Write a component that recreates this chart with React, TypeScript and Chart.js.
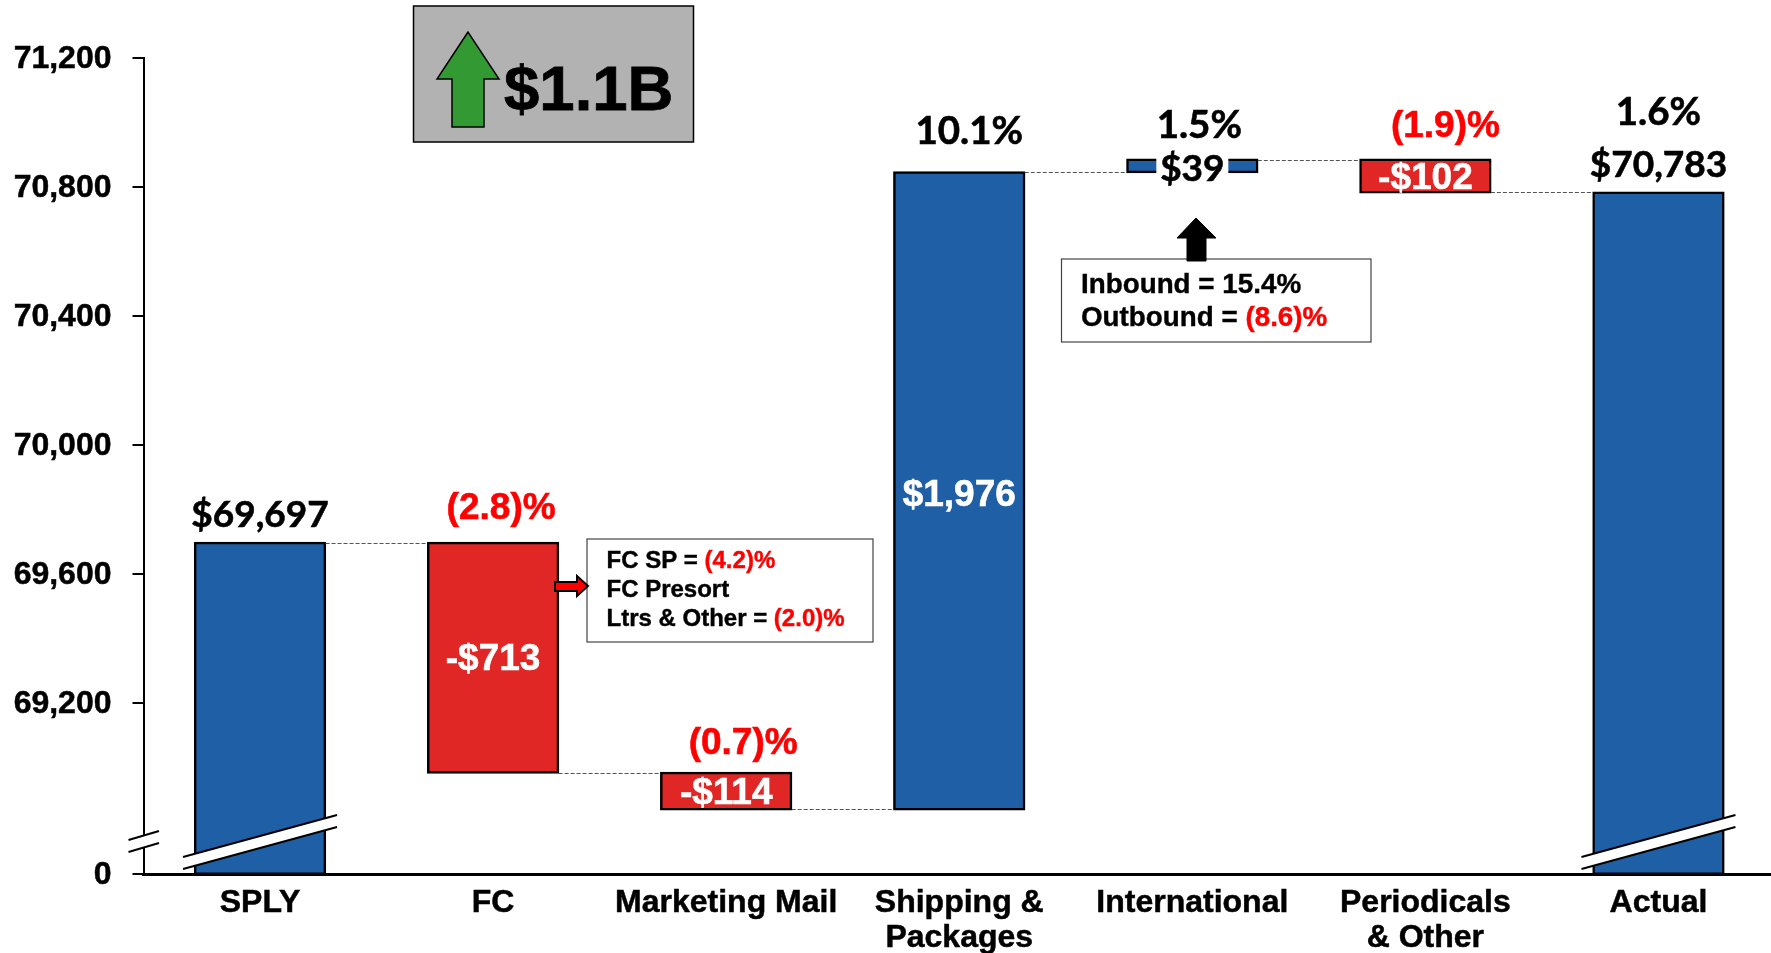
import React, { useEffect, useRef } from "react";
import { Chart, registerables } from "chart.js";

Chart.register(...registerables);

const categories: (string | string[])[] = ["SPLY", "FC", "Marketing Mail", ["Shipping &", "Packages"], "International", ["Periodicals", "& Other"], "Actual"];
const axisFloor = 68670;
const axisTop = 71200;
const yTickValues = [68670, 69200, 69600, 70000, 70400, 70800, 71200];
const yTickLabels = ["0", "69,200", "69,600", "70,000", "70,400", "70,800", "71,200"];
const barLow = [68670, 68984, 68870, 68870, 70846, 70783, 68670];
const barHigh = [69697, 69697, 68984, 70846, 70885, 70885, 70783];
const barIsDown = [false, true, true, false, false, true, false];
const amountLabels = ["", "-$713", "-$114", "$1,976", "$39", "-$102", ""];
const percentLabels = ["", "(2.8)%", "(0.7)%", "10.1%", "1.5%", "(1.9)%", "1.6%"];
const totalLabels = ["$69,697", "", "", "", "", "", "$70,783"];
const connectorLevels = [69697, 68984, 68870, 70846, 70885, 70783];
const badgeText = "$1.1B";
const fcNotes = [
  ["FC SP = ", "(4.2)%"],
  ["FC Presort", ""],
  ["Ltrs & Other = ", "(2.0)%"],
];
const intlNotes = [
  ["Inbound = 15.4%", ""],
  ["Outbound = ", "(8.6)%"],
];

const BLUE = "#1F5FA6";
const RED = "#E02726";
const PCT_RED = "#FF0000";
const FAMILY = '"Liberation Sans", Arial, sans-serif';
const HEAD_FAMILY = 'Lato, "Liberation Sans", sans-serif';

// layout offsets from each bar's centre / top edge
const percentOffset = [[0, 0], [8, -33.5], [17, -28.5], [10, -41], [7, -34.5], [20, -32.5], [0, -80]];
const totalOffset = [[0, -27.5], [0, 0], [0, 0], [0, 0], [0, 0], [0, 0], [0, -27.5]];
const amountOffset = [0, 2.5, 2.5, 4.5, 3.5, 2.5, 0];

const arrow = (c: CanvasRenderingContext2D, pts: number[][], fill: string, lw: number) => {
  c.beginPath();
  pts.forEach((p, i) => (i ? c.lineTo(p[0], p[1]) : c.moveTo(p[0], p[1])));
  c.closePath();
  c.fillStyle = fill;
  c.fill();
  c.lineWidth = lw;
  c.strokeStyle = "#000";
  c.stroke();
};

const heavyText = (c: CanvasRenderingContext2D, t: string, x: number, y: number, color: string, w = 0.6) => {
  c.fillStyle = color;
  c.fillText(t, x, y);
  c.strokeStyle = color;
  c.lineWidth = w;
  c.strokeText(t, x, y);
};

const breakBand = (c: CanvasRenderingContext2D, x0: number, x1: number, y0Top: number, y1Top: number, gap: number, lw: number) => {
  c.beginPath();
  c.moveTo(x0, y0Top);
  c.lineTo(x1, y1Top);
  c.lineTo(x1, y1Top + gap);
  c.lineTo(x0, y0Top + gap);
  c.closePath();
  c.fillStyle = "#fff";
  c.fill();
  c.strokeStyle = "#000";
  c.lineWidth = lw;
  c.beginPath();
  c.moveTo(x0, y0Top);
  c.lineTo(x1, y1Top);
  c.moveTo(x0, y0Top + gap);
  c.lineTo(x1, y1Top + gap);
  c.stroke();
};

const notesBox = (c: CanvasRenderingContext2D, box: number[], lines: string[][], textX: number, ys: number[], size: number) => {
  c.fillStyle = "#fff";
  c.fillRect(box[0], box[1], box[2], box[3]);
  c.strokeStyle = "#444";
  c.lineWidth = 1.2;
  c.strokeRect(box[0], box[1], box[2], box[3]);
  c.font = `bold ${size}px ${FAMILY}`;
  c.textAlign = "left";
  c.textBaseline = "middle";
  lines.forEach((l, i) => {
    heavyText(c, l[0], textX, ys[i], "#000", 0.4);
    const w = c.measureText(l[0]).width;
    heavyText(c, l[1], textX + w, ys[i], PCT_RED, 0.4);
  });
};

const overlay = {
  id: "overlay",
  afterDatasetsDraw(chart: any) {
    const c: CanvasRenderingContext2D = chart.ctx;
    const xs = chart.scales.x;
    const ys = chart.scales.y;
    const halfBar = 65.5;
    c.save();

    // connectors
    c.strokeStyle = "#555";
    c.lineWidth = 1;
    c.setLineDash([4, 2]);
    connectorLevels.forEach((v, i) => {
      const y = Math.round(ys.getPixelForValue(v)) + 0.5;
      c.beginPath();
      c.moveTo(xs.getPixelForValue(i) + halfBar, y);
      c.lineTo(xs.getPixelForValue(i + 1) - halfBar, y);
      c.stroke();
    });
    c.setLineDash([]);

    // axis break + bar breaks
    const bottom = ys.getPixelForValue(axisFloor);
    breakBand(c, 128.5, 159, bottom - 34, bottom - 43, 12, 2);
    [0, 6].forEach((i) => {
      const cx = xs.getPixelForValue(i);
      breakBand(c, cx - 77, cx + 77, bottom - 17, bottom - 59, 12, 2);
    });

    // value labels
    c.textAlign = "center";
    c.textBaseline = "middle";
    percentLabels.forEach((t, i) => {
      if (!t) return;
      const down = t.startsWith("(");
      c.font = down ? `bold 37px ${FAMILY}` : `bold 38.5px ${HEAD_FAMILY}`;
      heavyText(c, t, xs.getPixelForValue(i) + percentOffset[i][0], ys.getPixelForValue(barHigh[i]) + percentOffset[i][1], down ? PCT_RED : "#000");
    });
    c.font = `bold 37px ${HEAD_FAMILY}`;
    totalLabels.forEach((t, i) => {
      if (!t) return;
      heavyText(c, t, xs.getPixelForValue(i) + totalOffset[i][0], ys.getPixelForValue(barHigh[i]) + totalOffset[i][1], "#000");
    });
    amountLabels.forEach((t, i) => {
      if (!t) return;
      const cx = xs.getPixelForValue(i);
      const cy = (ys.getPixelForValue(barLow[i]) + ys.getPixelForValue(barHigh[i])) / 2;
      if (i === 4) {
        c.fillStyle = "#fff";
        c.fillRect(cx - 36, cy - 20, 72, 40);
        c.font = `bold 37px ${HEAD_FAMILY}`;
        heavyText(c, t, cx, cy + amountOffset[i], "#000");
      } else {
        c.font = `bold 37px ${FAMILY}`;
        heavyText(c, t, cx, cy + amountOffset[i], "#fff");
      }
    });

    // badge
    c.fillStyle = "#B2B2B2";
    c.fillRect(413.5, 6, 280, 136);
    c.strokeStyle = "#000";
    c.lineWidth = 1.5;
    c.strokeRect(413.5, 6, 280, 136);
    arrow(c, [[468, 32], [437, 79], [452, 79], [452, 127], [484, 127], [484, 79], [499, 79]], "#339933", 1.5);
    c.font = `bold 63.5px ${FAMILY}`;
    c.textAlign = "left";
    c.textBaseline = "middle";
    heavyText(c, badgeText, 504, 92, "#000", 0.8);

    // FC notes
    notesBox(c, [587, 539, 286, 103], fcNotes, 606.5, [561, 590.5, 619], 24);
    arrow(c, [[555, 582], [577, 582], [577, 576], [588, 586], [577, 596], [577, 591], [555, 591]], "#FF0000", 2);

    // International notes
    notesBox(c, [1061.5, 259, 309.5, 83], intlNotes, 1081, [285.5, 318.5], 27.8);
    arrow(c, [[1196, 218], [1177, 238], [1187, 238], [1187, 261], [1206, 261], [1206, 238], [1216, 238]], "#000", 1);

    c.restore();
  },
};

export default function App() {
  const ref = useRef<HTMLCanvasElement>(null);
  useEffect(() => {
    const chart = new Chart(ref.current as HTMLCanvasElement, {
      type: "bar",
      data: {
        labels: categories as any,
        datasets: [
          {
            data: barLow.map((l, i) => [l, barHigh[i]]) as any,
            backgroundColor: barIsDown.map((d) => (d ? RED : BLUE)),
            borderColor: "#000",
            borderWidth: 2.5,
            borderSkipped: false,
            inflateAmount: 1,
            barPercentage: 0.559,
            categoryPercentage: 1,
          },
        ],
      },
      options: {
        responsive: false,
        animation: false,
        events: [],
        layout: { padding: { top: 58, right: 0, bottom: 0, left: 0 } },
        plugins: { legend: { display: false }, tooltip: { enabled: false }, title: { display: false } },
        scales: {
          x: {
            grid: { display: false, drawTicks: false },
            border: { display: true, color: "#000", width: 3, z: 1 },
            afterFit: (s: any) => {
              s.height = 79;
            },
            ticks: {
              color: "#000",
              padding: 12,
              maxRotation: 0,
              autoSkip: false,
              textStrokeColor: "#000",
              textStrokeWidth: 0.5,
              font: { family: FAMILY, size: 32, weight: "bold", lineHeight: 1.08 },
            },
          },
          y: {
            min: axisFloor,
            max: axisTop,
            afterBuildTicks: (s: any) => {
              s.ticks = yTickValues.map((value) => ({ value }));
              const base = s.getLabelItems.bind(s);
              s.getLabelItems = (area: any) => base(area).map((it: any) => ({ ...it, textOffset: it.textOffset + 0.6 }));
            },
            afterFit: (s: any) => {
              s.width = 143.5;
            },
            grid: { drawOnChartArea: false, drawTicks: true, tickLength: 11, color: "#000", lineWidth: 2 },
            border: { display: true, color: "#000", width: 2 },
            ticks: {
              color: "#000",
              padding: 21,
              autoSkip: false,
              textStrokeColor: "#000",
              textStrokeWidth: 0.5,
              callback: (v: any) => yTickLabels[yTickValues.indexOf(Number(v))],
              font: { family: FAMILY, size: 32, weight: "bold" },
            },
          },
        },
      },
      plugins: [overlay],
    } as any);
    return () => chart.destroy();
  }, []);
  return (
    <div style={{ position: "absolute", left: 0, top: 0, width: 1771, height: 953, overflow: "hidden", background: "#fff" }}>
      <canvas ref={ref} width={1775} height={953} style={{ display: "block" }} />
    </div>
  );
}
